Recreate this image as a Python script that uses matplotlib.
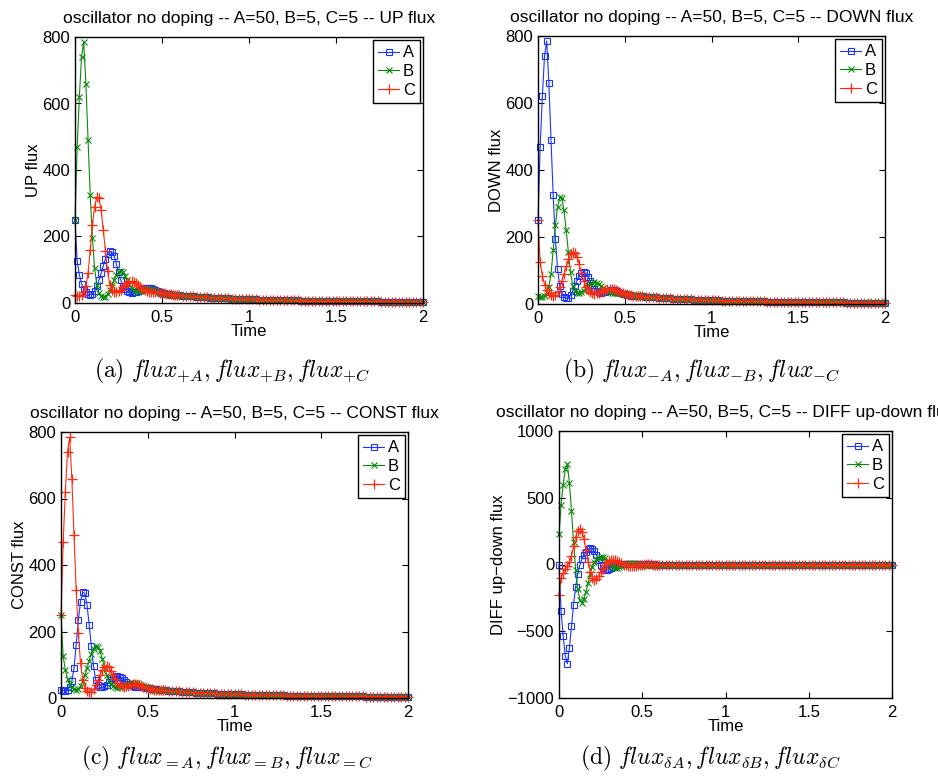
import numpy as np
import matplotlib
matplotlib.use("Agg")
import matplotlib.pyplot as plt

plt.rcParams['font.family'] = ['Liberation Sans', 'DejaVu Sans']
plt.rcParams['mathtext.fontset'] = 'cm'

# ---- data ----
T_EARLY = [0, 0.0125, 0.025, 0.0375, 0.05, 0.0625, 0.075, 0.0875, 0.1, 0.1125,
           0.125, 0.1375, 0.15, 0.1625, 0.175, 0.1875, 0.2, 0.2125, 0.225, 0.2375,
           0.25, 0.2625, 0.275, 0.2875, 0.3, 0.3125, 0.325, 0.3375, 0.35, 0.3625,
           0.375, 0.3875, 0.4, 0.4125, 0.425, 0.4375, 0.45, 0.4625, 0.475, 0.4875,
           0.5, 0.5125, 0.525, 0.5375, 0.55, 0.5625, 0.575, 0.5875, 0.6]
T_TAIL = [0.62, 0.64, 0.66, 0.68, 0.70, 0.72, 0.74, 0.76, 0.78, 0.80,
          0.82, 0.84, 0.86, 0.88, 0.90, 0.92, 0.94, 0.96, 0.98, 1.00,
          1.02, 1.04, 1.06, 1.08, 1.10, 1.12, 1.14, 1.16, 1.18, 1.20,
          1.22, 1.24, 1.26, 1.28, 1.30, 1.32, 1.34, 1.36, 1.38, 1.40,
          1.42, 1.44, 1.46, 1.48, 1.50, 1.52, 1.54, 1.56, 1.58, 1.60,
          1.62, 1.64, 1.66, 1.68, 1.70, 1.72, 1.74, 1.76, 1.78, 1.80,
          1.82, 1.84, 1.86, 1.88, 1.90, 1.92, 1.94, 1.96, 1.98, 2.00]

# big first pulse (UP B / DOWN A / CONST C)
PULSE_1 = [250, 470, 620, 740, 785, 660, 490, 325, 195, 105, 55, 30, 20, 17, 19,
           26, 38, 53, 70, 84, 93, 96, 92, 82, 69, 56, 46, 39, 35, 34, 35, 37, 40,
           42, 43, 42, 40, 37, 34, 31, 29, 27, 26, 25, 25, 24, 24, 23, 23]
# second pulse (UP C / DOWN B / CONST A)
PULSE_2 = [25, 22, 22, 25, 32, 50, 90, 160, 235, 290, 318, 315, 280, 220, 155,
           95, 55, 38, 32, 32, 35, 40, 47, 54, 60, 64, 65, 64, 60, 54, 48, 42, 38,
           35, 33, 32, 32, 32, 32, 31, 30, 29, 28, 27, 26, 25, 24, 23, 23]
# third pulse (UP A / DOWN C / CONST B)
PULSE_3 = [250, 125, 85, 58, 42, 32, 27, 25, 28, 36, 50, 68, 90, 112, 133, 148,
           155, 152, 140, 118, 92, 70, 52, 41, 35, 32, 31, 32, 34, 37, 40, 43, 45,
           46, 46, 45, 43, 40, 37, 34, 31, 29, 27, 26, 25, 25, 24, 23, 23]
# common slow decay of all fluxes after t = 0.6
TAIL = [22, 21.5, 20.5, 19.8, 19, 18.3, 17.6, 17, 16.4, 15.8,
        15.3, 14.8, 14.3, 13.8, 13.3, 12.9, 12.5, 12.1, 11.7, 11.3,
        11, 10.7, 10.4, 10.1, 9.8, 9.5, 9.3, 9, 8.8, 8.5,
        8.3, 8.1, 7.9, 7.7, 7.5, 7.3, 7.1, 7, 6.8, 6.6,
        6.5, 6.3, 6.2, 6, 5.9, 5.8, 5.6, 5.5, 5.4, 5.3,
        5.2, 5.1, 5, 4.9, 4.8, 4.7, 4.6, 4.5, 4.4, 4.3,
        4.2, 4.15, 4.1, 4, 3.9, 3.85, 3.8, 3.7, 3.65, 3.6]

SPECIES = ['A', 'B', 'C']
TITLES = ['UP flux', 'DOWN flux', 'CONST flux', 'DIFF up-down flux']
YLABELS = ['UP flux', 'DOWN flux', 'CONST flux', 'DIFF up\u2212down flux']
CAPTIONS = [r'$\mathrm{(a)}\ flux_{+A}, flux_{+B}, flux_{+C}$',
            r'$\mathrm{(b)}\ flux_{-A}, flux_{-B}, flux_{-C}$',
            r'$\mathrm{(c)}\ flux_{=A}, flux_{=B}, flux_{=C}$',
            r'$\mathrm{(d)}\ flux_{\delta A}, flux_{\delta B}, flux_{\delta C}$']

t = np.array(T_EARLY + T_TAIL)
p1 = np.array(PULSE_1 + TAIL, dtype=float)
p2 = np.array(PULSE_2 + TAIL, dtype=float)
p3 = np.array(PULSE_3 + TAIL, dtype=float)

up = {'A': p3, 'B': p1, 'C': p2}
down = {'A': p1, 'B': p2, 'C': p3}
const = {'A': p2, 'B': p3, 'C': p1}
diff = {k: up[k] - down[k] for k in SPECIES}
panels = [up, down, const, diff]

# ---- layout ----
W, H = 938, 776
fig = plt.figure(figsize=(W / 100, H / 100), dpi=100)
boxes = [(75, 37, 423, 303), (538, 36, 885, 304), (61, 432, 408, 698), (559, 431, 892, 698)]
cap_pos = [(232, 371), (702, 371), (227, 758), (710, 758)]

colors = {'A': '#1a35ff', 'B': '#0a8a0a', 'C': '#ff2a10'}
markers = {'A': dict(marker='s', ms=5, mfc='none', mew=0.8),
           'B': dict(marker='x', ms=4, mew=0.8),
           'C': dict(marker='+', ms=7, mew=0.9)}

FS = 12
for i, data in enumerate(panels):
    x0, y0, x1, y1 = boxes[i]
    ax = fig.add_axes([x0 / W, 1 - y1 / H, (x1 - x0) / W, (y1 - y0) / H])
    for k in SPECIES:
        ax.plot(t, data[k], color=colors[k], lw=0.8, label=k, clip_on=False,
                **markers[k])
    ax.set_xlim(0, 2)
    ax.set_xticks([0, 0.5, 1, 1.5, 2])
    ax.set_xticklabels(['0', '0.5', '1', '1.5', '2'])
    if i == 3:
        ax.set_ylim(-1000, 1000)
        ax.set_yticks([-1000, -500, 0, 500, 1000])
        ax.set_yticklabels(['\u22121000', '\u2212500', '0', '500', '1000'])
    else:
        ax.set_ylim(0, 800)
        ax.set_yticks([0, 200, 400, 600, 800])
    ax.tick_params(direction='in', top=True, right=True, length=4, width=0.8,
                   labelsize=FS)
    ax.tick_params(axis='x', pad=5)
    ax.tick_params(axis='y', pad=3.5)
    for s in ax.spines.values():
        s.set_linewidth(1.0)
    ax.set_xlabel('Time', fontsize=FS, labelpad=-1)
    ax.set_ylabel(YLABELS[i], fontsize=FS, labelpad=1)
    ax.set_title('oscillator no doping -- A=50, B=5, C=5 -- ' + TITLES[i],
                 fontsize=12.5, pad=10)
    leg = ax.legend(loc='upper right', fontsize=FS, handlelength=1.3,
                    handletextpad=0.2, borderpad=0.3, labelspacing=0.22,
                    borderaxespad=0.2, fancybox=False, framealpha=1)
    leg.get_frame().set_edgecolor('black')
    leg.get_frame().set_linewidth(1.0)
    cx, cy = cap_pos[i]
    fig.text(cx / W, 1 - cy / H, CAPTIONS[i], ha='center', va='center', fontsize=17)

fig.savefig('out.png', dpi=100)
